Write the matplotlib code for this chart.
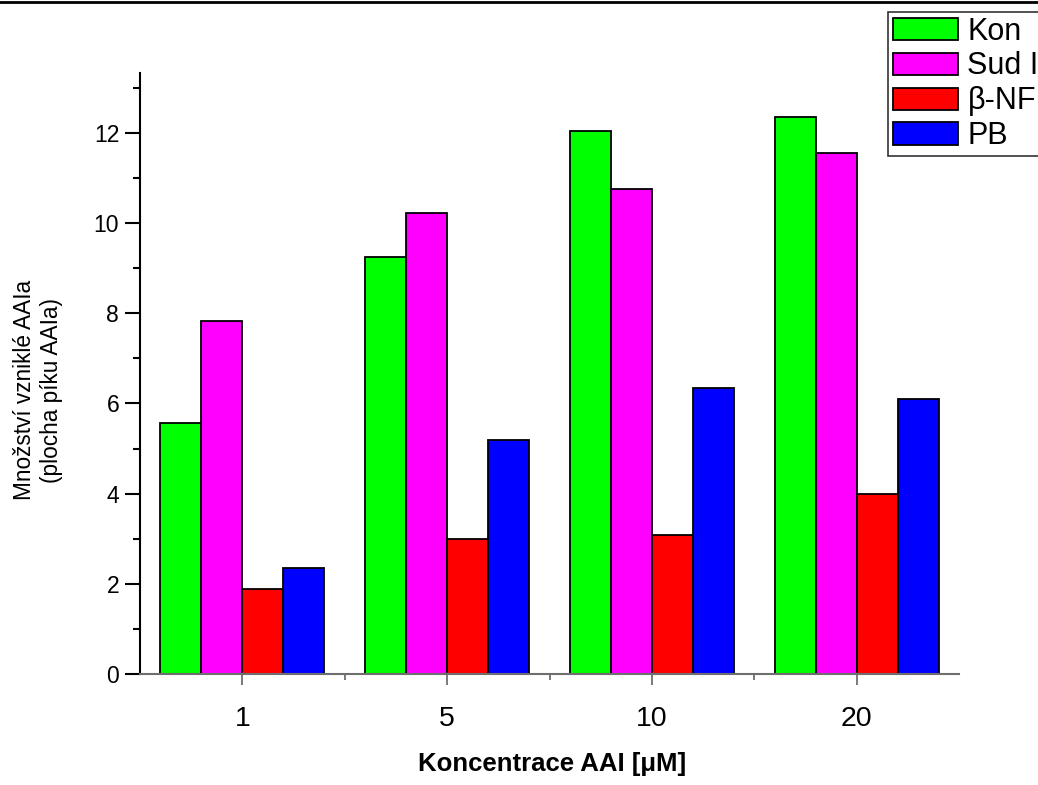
import numpy as np
import matplotlib
matplotlib.use('Agg')
import matplotlib.pyplot as plt
from matplotlib.ticker import FixedLocator

# ---- PLOT DATA ---- #
categories = ['1', '5', '10', '20']
series_names = ['Kon', 'Sud I', '\u03b2-NF', 'PB']
kon = [5.56, 9.26, 12.05, 12.35]
sud = [7.82, 10.22, 10.76, 11.56]
bnf = [1.89, 2.99, 3.09, 4.00]
pb = [2.34, 5.18, 6.34, 6.10]
colors = ['#00ff00', '#ff00ff', '#ff0000', '#0000ff']

xlbl = 'Koncentrace AAI [\u03bcM]'
ylbl = 'Množství vzniklé AAIa\n(plocha píku AAIa)'

plt.rcParams['font.family'] = ['Liberation Sans', 'DejaVu Sans']

# ---- PLOTTING ---- #
fig = plt.figure(figsize=(10.38, 7.85), dpi=100)
ax = fig.add_axes([140/1038, 1 - 674/785, 819/1038, 601/785])

x = np.arange(1, len(categories) + 1)
width = 0.2
for i, (vals, name, c) in enumerate(zip([kon, sud, bnf, pb], series_names, colors)):
    ax.bar(x + (i - 1.5) * width, vals, width, color=c, edgecolor='k',
           linewidth=1.3, label=name, zorder=2)

# ---- AXIS ---- #
ax.set_xlim(0.5, 4.5)
ax.set_ylim(0, 13.33)
ax.spines['top'].set_visible(False)
ax.spines['right'].set_visible(False)
ax.spines['left'].set_linewidth(1.5)
ax.spines['bottom'].set_linewidth(1.5)
ax.spines['bottom'].set_color('#6e6e6e')
ax.spines['bottom'].set_zorder(3)

ax.set_xticks(x)
ax.set_xticklabels(categories, fontsize=20.5)
ax.xaxis.set_minor_locator(FixedLocator([1.5, 2.5, 3.5]))
ax.tick_params(axis='x', which='major', length=8, width=1.3, color='#6e6e6e', pad=15)
ax.tick_params(axis='x', which='minor', length=4, width=1.3, color='#6e6e6e')

ax.set_yticks(np.arange(0, 13, 2))
ax.yaxis.set_minor_locator(FixedLocator(np.arange(1, 14, 2)))
ax.tick_params(axis='y', which='major', length=11, width=1.5, labelsize=16.5, pad=4)
ax.tick_params(axis='y', which='minor', length=5, width=1.5)

# ---- LABELS ---- #
ax.set_xlabel(xlbl, fontsize=18.5, fontweight='bold')
ax.xaxis.set_label_coords(0.503, -0.129)
ax.set_ylabel(ylbl, fontsize=16.3, linespacing=1.2)
ax.yaxis.set_label_coords(-0.094, 0.472)

# ---- LEGEND ---- #
leg = fig.legend(loc='upper left', bbox_to_anchor=(888/1038, 1 - 12/785),
                 fontsize=22, frameon=True, fancybox=False, borderpad=0.15,
                 handlelength=2.15, handleheight=0.74, handletextpad=0.3,
                 labelspacing=0.16, borderaxespad=0)
leg.get_frame().set_edgecolor('k')
leg.get_frame().set_linewidth(1.2)

# top border line
fig.add_artist(plt.Line2D([0, 1], [0.998, 0.998], transform=fig.transFigure,
                          color='k', linewidth=2))

# ---- SAVE PLOT ---- #
fig.savefig('out.png', dpi=100)
